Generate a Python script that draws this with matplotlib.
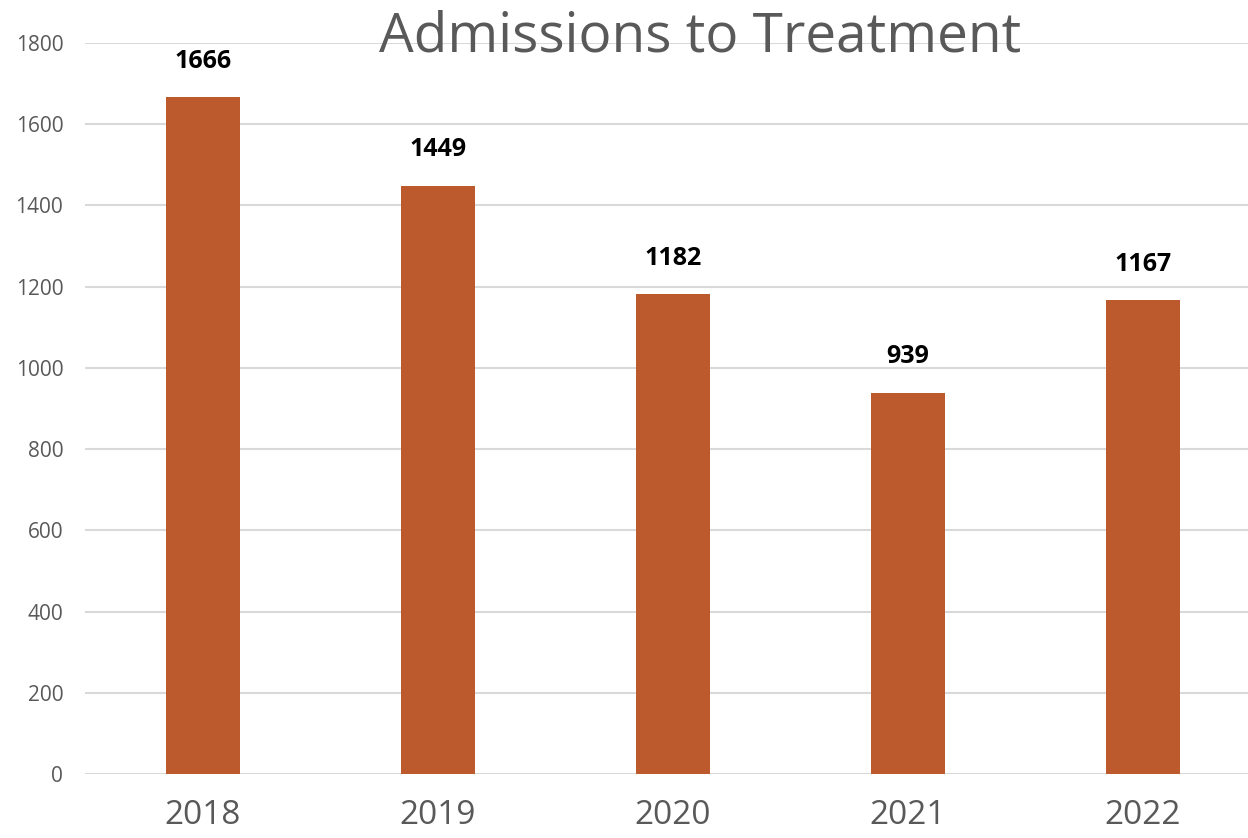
import matplotlib
matplotlib.use("Agg")
import matplotlib.pyplot as plt

# data
years = ["2018", "2019", "2020", "2021", "2022"]
admissions = [1666, 1449, 1182, 939, 1167]

plt.rcParams['font.family'] = ['Open Sans', 'DejaVu Sans']

fig = plt.figure(figsize=(12.48, 8.38), dpi=100)
ax = fig.add_axes([0.0685, 0.0764, 0.9415, 0.8723])

x = range(len(years))
bars = ax.bar(x, admissions, width=0.315, color="#BC5A2E", zorder=3)

ax.set_xlim(-0.5, 4.5)
ax.set_ylim(0, 1800)
ax.set_yticks(range(0, 1801, 200))
ax.set_xticks(list(x))
ax.set_xticklabels(years)

ax.grid(axis="y", color="#D9D9D9", linewidth=1.5, zorder=0)
for s in ax.spines.values():
    s.set_visible(False)
ax.tick_params(axis="y", length=0, labelsize=15, labelcolor="#595959", pad=16)
ax.tick_params(axis="x", length=0, labelsize=24, labelcolor="#595959", pad=18)

# value labels
for i, v in enumerate(admissions):
    ax.annotate(str(v), (i, v), xytext=(0, 21), textcoords="offset points",
                ha="center", va="baseline", fontsize=18, fontweight="bold", color="black")

fig.text(0.561, 0.938, "Admissions to Treatment", ha="center", va="baseline",
         fontsize=39.5, color="#595959")

fig.savefig("out.png", dpi=100)
